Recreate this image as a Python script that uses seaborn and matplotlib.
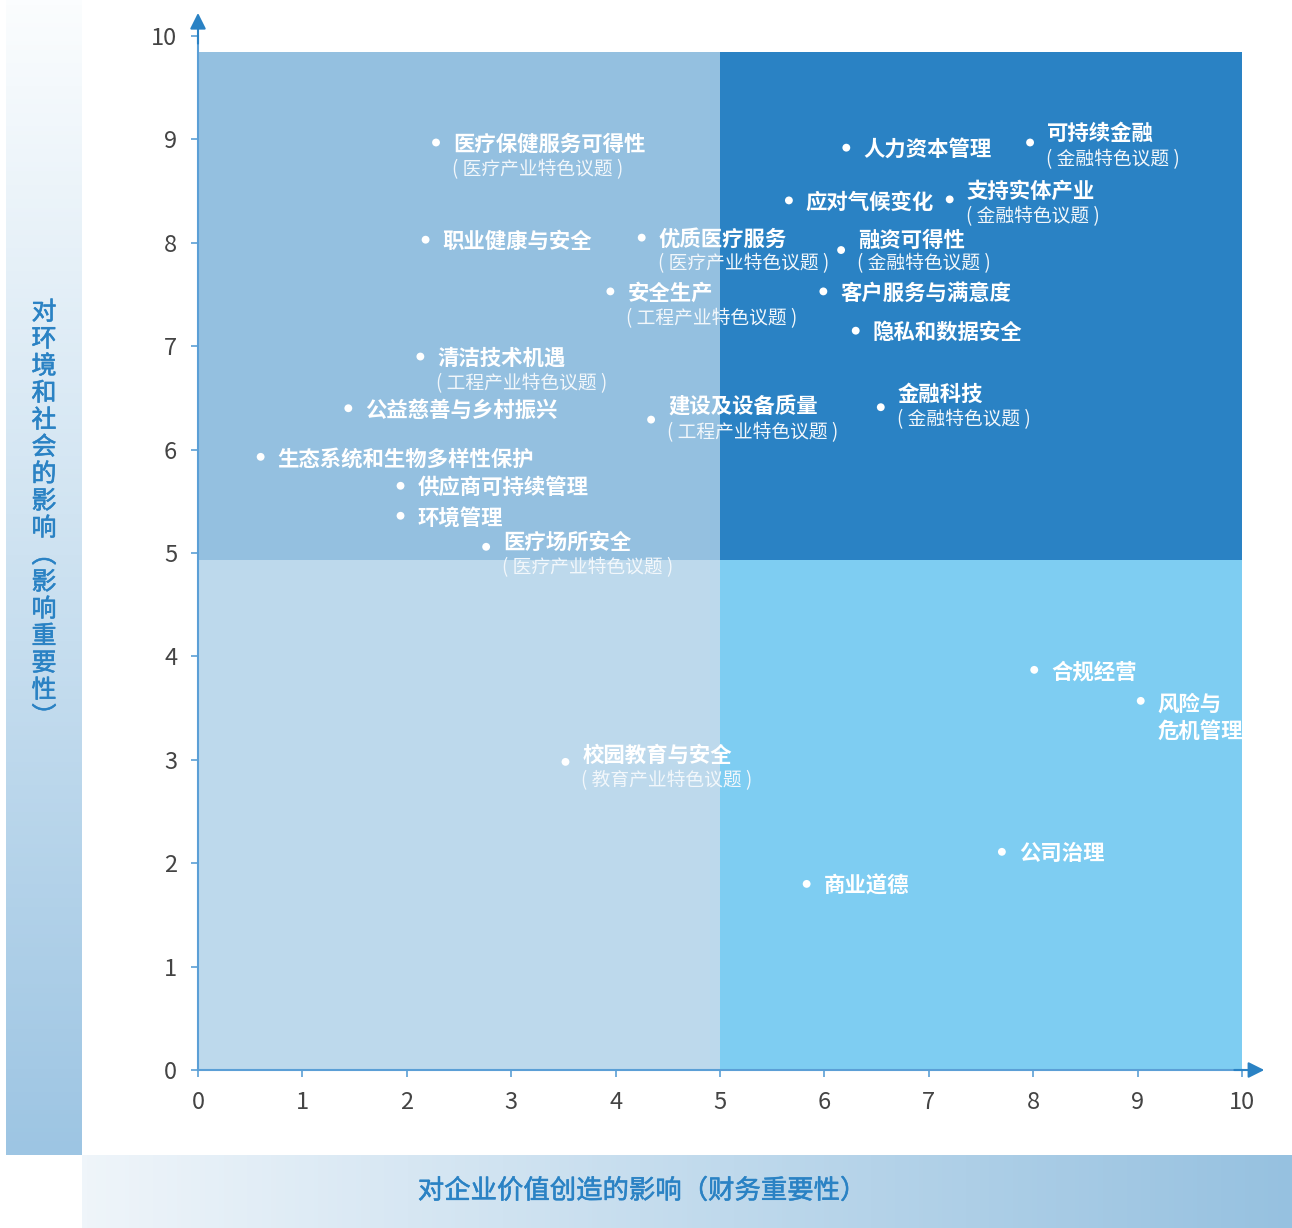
import matplotlib.pyplot as plt
import matplotlib.patheffects as pe
import numpy as np
import pandas as pd
import seaborn as sns
from matplotlib.colors import LinearSegmentedColormap

# topic, x = impact on enterprise value, y = ESG impact
topics = [
    "医疗保健服务可得性", "人力资本管理", "可持续金融", "应对气候变化", "支持实体产业",
    "职业健康与安全", "优质医疗服务", "融资可得性", "安全生产", "客户服务与满意度",
    "隐私和数据安全", "清洁技术机遇", "公益慈善与乡村振兴", "建设及设备质量", "金融科技",
    "生态系统和生物多样性保护", "供应商可持续管理", "环境管理", "医疗场所安全", "合规经营",
    "风险与\n危机管理", "校园教育与安全", "公司治理", "商业道德",
]
finance_impact = [
    2.28, 6.21, 7.97, 5.66, 7.20,
    2.18, 4.25, 6.16, 3.95, 5.99,
    6.30, 2.13, 1.44, 4.34, 6.54,
    0.60, 1.94, 1.94, 2.76, 8.01,
    9.03, 3.52, 7.70, 5.83,
]
esg_impact = [
    8.97, 8.92, 8.97, 8.41, 8.42,
    8.03, 8.05, 7.93, 7.53, 7.53,
    7.15, 6.90, 6.40, 6.29, 6.41,
    5.93, 5.65, 5.36, 5.06, 3.87,
    3.57, 2.98, 2.11, 1.80,
]
notes = [
    "医疗产业特色议题", "", "金融特色议题", "", "金融特色议题",
    "", "医疗产业特色议题", "金融特色议题", "工程产业特色议题", "",
    "", "工程产业特色议题", "", "工程产业特色议题", "金融特色议题",
    "", "", "", "医疗产业特色议题", "",
    "", "教育产业特色议题", "", "",
]

# label layout (pixel offsets of title / note relative to the dot, up = positive)
title_dy = [-2, -2, 9, -2, 8, -2, -2, 10, -2, -2, -2, -2, -2, 13, 13, -2, -2, -2, 5, -2, -17, 7, -2, -2]
note_dy = [-27, 0, -17, 0, -17, 0, -26, -14, -27, 0, 0, -27, 0, -13, -12, 0, 0, 0, -21, 0, 0, -19, 0, 0]

x_split, y_split, y_top = 5, 4.93, 9.85
quad_colors = {"tl": "#94c0e0", "tr": "#2a82c4", "bl": "#bdd9ec", "br": "#7ecdf2"}
axis_blue = "#2a82c4"

df = pd.DataFrame({"topic": topics, "finance": finance_impact, "esg": esg_impact, "note": notes})

sns.set_theme(style="white")
plt.rcParams["font.family"] = ["Noto Sans CJK SC", "DejaVu Sans"]

fig = plt.figure(figsize=(12.92, 12.28), dpi=100)
thicken = [pe.withStroke(linewidth=0.4, foreground=axis_blue)]

# gradient side strips
grad = np.linspace(0, 1, 256).reshape(-1, 1)
left_strip = fig.add_axes([6 / 1292, 73 / 1228, 76 / 1292, 1155 / 1228])
cmap_v = LinearSegmentedColormap.from_list("v", ["#fbfdfe", "#9dc5e3"])
left_strip.imshow(grad, aspect="auto", cmap=cmap_v, origin="upper")
left_strip.set_axis_off()
ylabel = "\n".join("对环境和社会的影响︵影响重要性︶")
left_strip.text(0.5, 0.554, ylabel, transform=left_strip.transAxes, ha="center", va="center",
                fontsize=18, color=axis_blue, linespacing=1.05, path_effects=thicken)

bottom_strip = fig.add_axes([82 / 1292, 0, 1210 / 1292, 73 / 1228])
cmap_h = LinearSegmentedColormap.from_list("h", ["#eff5fa", "#96c1e0"])
bottom_strip.imshow(grad.T, aspect="auto", cmap=cmap_h, origin="upper")
bottom_strip.set_axis_off()
fig.text(642 / 1292, 1 - 1191 / 1228, "对企业价值创造的影响（财务重要性）", ha="center", va="center",
         fontsize=19, color=axis_blue, path_effects=thicken)

ax = fig.add_axes([198 / 1292, 158 / 1228, 1044 / 1292, 1034 / 1228])
ax.set_xlim(0, 10)
ax.set_ylim(0, 10)

ax.fill_between([0, x_split], y_split, y_top, color=quad_colors["tl"], lw=0, zorder=0)
ax.fill_between([x_split, 10], y_split, y_top, color=quad_colors["tr"], lw=0, zorder=0)
ax.fill_between([0, x_split], 0, y_split, color=quad_colors["bl"], lw=0, zorder=0)
ax.fill_between([x_split, 10], 0, y_split, color=quad_colors["br"], lw=0, zorder=0)

sns.scatterplot(data=df, x="finance", y="esg", color="white", s=32, edgecolor="none", zorder=3, ax=ax)

for i, row in df.iterrows():
    ax.annotate(row["topic"], xy=(row["finance"], row["esg"]), xytext=(17, title_dy[i]),
                textcoords="offset pixels", ha="left", va="center", fontsize=15.4, fontweight="bold",
                color="white", linespacing=1.4, zorder=4)
    if row["note"]:
        ax.annotate(f"( {row['note']} )", xy=(row["finance"], row["esg"]), xytext=(16, note_dy[i]),
                    textcoords="offset pixels", ha="left", va="center", fontsize=13.5,
                    fontweight="light", color="#f2f7fb", zorder=4)

for side in ["top", "right"]:
    ax.spines[side].set_visible(False)
for side in ["left", "bottom"]:
    ax.spines[side].set_color("#5b9fd6")
    ax.spines[side].set_linewidth(1.5)

ax.annotate("", xy=(10.24, 0), xytext=(9.9, 0), annotation_clip=False,
            arrowprops=dict(arrowstyle="-|>", color=axis_blue, lw=1.5, mutation_scale=24))
ax.annotate("", xy=(0, 10.25), xytext=(0, 9.9), annotation_clip=False,
            arrowprops=dict(arrowstyle="-|>", color=axis_blue, lw=1.5, mutation_scale=24))

ax.set_xticks(range(11))
ax.set_yticks(range(11))
ax.tick_params(axis="both", which="major", direction="out", length=5, width=1.2, color="#5b9fd6",
               labelsize=17, labelcolor="#444444", pad=10, bottom=True, left=True)
for lab in ax.get_xticklabels() + ax.get_yticklabels():
    lab.set_fontweight("light")
ax.set_xlabel("")
ax.set_ylabel("")
ax.grid(False)
ax.set_facecolor("none")

fig.savefig("out.png", dpi=100)
